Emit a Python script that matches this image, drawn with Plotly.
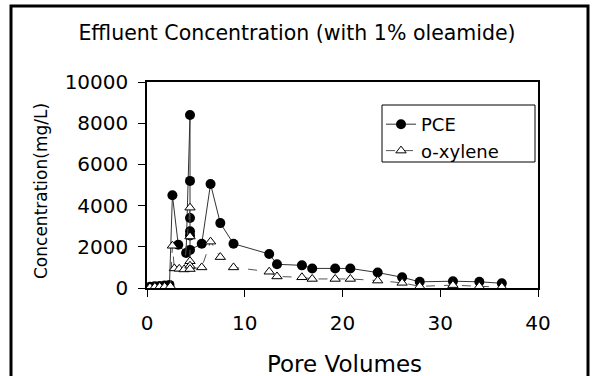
import plotly.graph_objects as go

# Data
pce_x = [0.3, 0.8, 1.3, 1.8, 2.3, 2.6, 3.2, 4.0, 4.4, 4.4, 4.4, 4.4, 4.4, 4.4, 5.6, 6.5, 7.5, 8.85,
         12.5, 13.3, 15.85, 16.9, 19.25, 20.8, 23.6, 26.1, 27.9, 31.3, 34.0, 36.3]
pce_y = [60, 90, 100, 120, 150, 4500, 2100, 1700, 8400, 5200, 3400, 2750, 2550, 1850, 2150, 5050, 3150, 2150,
         1650, 1150, 1100, 950, 950, 950, 750, 520, 300, 330, 300, 230]

oxy_x = [0.3, 0.8, 1.3, 1.8, 2.4, 2.6, 2.8, 3.3, 3.8, 4.4, 4.4, 4.4, 4.4, 4.4, 5.6, 6.5, 7.5, 8.85,
         12.5, 13.3, 15.85, 16.9, 19.25, 20.8, 23.6, 26.1, 27.9, 31.3, 34.0, 36.3]
oxy_y = [30, 50, 60, 60, 80, 2050, 950, 930, 900, 3900, 2500, 1300, 1080, 920, 1000, 2250, 1500, 1000,
         790, 560, 520, 440, 440, 440, 360, 250, 80, 140, 80, 50]

x_ticks = [0, 10, 20, 30, 40]
y_ticks = [0, 2000, 4000, 6000, 8000, 10000]

FONT = "DejaVu Sans"

fig = go.Figure()
fig.add_trace(go.Scatter(
    x=pce_x, y=pce_y, name="PCE", mode="lines+markers",
    line=dict(color="#333333", width=1),
    marker=dict(symbol="circle", size=10, color="black"),
))
fig.add_trace(go.Scatter(
    x=oxy_x, y=oxy_y, name="o-xylene", mode="lines+markers",
    line=dict(color="#555555", width=1, dash="dash"),
    marker=dict(symbol="triangle-up", size=9, color="white", line=dict(color="black", width=1)),
))

L, R, T, B = 147, 54, 82, 88
W, H = 592, 376
pw, ph = W - L - R, H - T - B

def px_x(p):
    return (p - L) / pw

def px_y(p):
    return (H - B - p) / ph

fig.update_layout(
    width=W, height=H,
    margin=dict(l=L, r=R, t=T, b=B),
    paper_bgcolor="white", plot_bgcolor="white",
    font=dict(family=FONT, color="black"),
    showlegend=True,
    legend=dict(
        x=px_x(381), y=px_y(106), xanchor="left", yanchor="top",
        borderwidth=0, bgcolor="rgba(0,0,0,0)",
        font=dict(size=18, family=FONT),
        itemwidth=30, tracegroupgap=0,
    ),
    title=dict(text="Effluent Concentration (with 1% oleamide)", x=297 / W, xref="container",
               xanchor="center", y=1 - 33 / H, yref="container", yanchor="middle",
               font=dict(size=20.5, family=FONT)),
    xaxis=dict(range=[0, 40], tickvals=x_ticks, ticktext=[str(v) for v in x_ticks],
               showgrid=False, zeroline=False, showline=True, linecolor="black", linewidth=1.5,
               mirror=True, ticks="outside", ticklen=7, tickcolor="black",
               ticklabelstandoff=9,
               tickfont=dict(size=20, family=FONT)),
    yaxis=dict(range=[0, 10000], tickvals=y_ticks, ticktext=[str(v) for v in y_ticks],
               showgrid=False, zeroline=False, showline=True, linecolor="black", linewidth=1.5,
               mirror=True, ticks="outside", ticklen=7, tickcolor="black",
               ticklabelstandoff=6,
               tickfont=dict(size=20, family=FONT)),
    annotations=[
        dict(text="Pore Volumes", x=px_x(344), y=px_y(364), xref="paper", yref="paper",
             showarrow=False, xanchor="center", yanchor="middle", font=dict(size=23, family=FONT)),
        dict(text="Concentration(mg/L)", x=px_x(41), y=px_y(191), xref="paper", yref="paper",
             showarrow=False, xanchor="center", yanchor="middle", textangle=-90,
             font=dict(size=17, family=FONT)),
    ],
    shapes=[
        dict(type="rect", xref="paper", yref="paper",
             x0=px_x(11), x1=px_x(588), y0=px_y(380), y1=px_y(6),
             line=dict(color="black", width=3), layer="below"),
        dict(type="rect", xref="paper", yref="paper",
             x0=px_x(382), x1=px_x(535), y0=px_y(162), y1=px_y(105),
             line=dict(color="black", width=1), fillcolor="white", layer="below"),
    ],
)

fig.write_html("out.html", config={"displayModeBar": False},
               post_script="document.body.style.margin='0';")
